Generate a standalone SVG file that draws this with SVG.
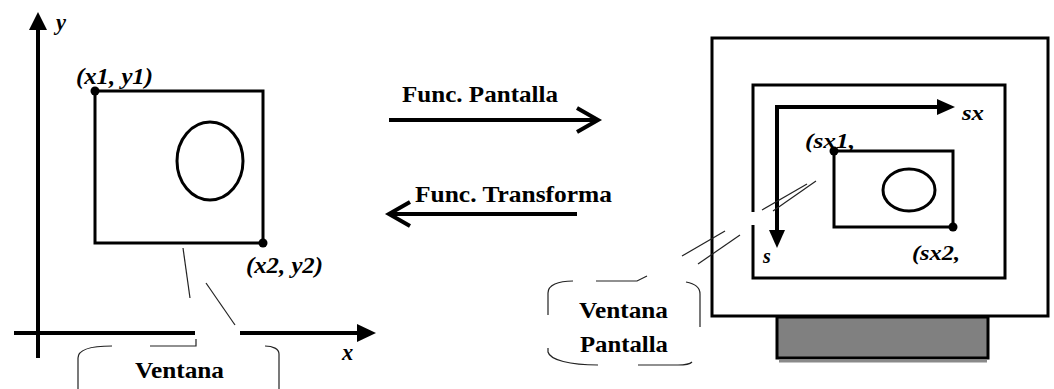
<svg xmlns="http://www.w3.org/2000/svg" width="1054" height="389" viewBox="0 0 1054 389">
<style>
.thick{fill:none;stroke:#000;stroke-width:4}
.box{fill:none;stroke:#000;stroke-width:3}
.thin{fill:none;stroke:#222;stroke-width:1.2}
.head{fill:#000;stroke:none}
.dot{fill:#000}
.lbl{font-family:"Liberation Serif","Times New Roman",serif;font-weight:bold;font-size:22.5px;fill:#000}
.it{font-style:italic}
.sm{font-size:20px}
</style>
<rect width="1054" height="389" fill="#fff"/>

<g id="world-axes">
  <line class="thick" x1="38" y1="358" x2="38" y2="29"/>
  <polygon class="head" points="29,30 38,12 47,30"/>
  <text class="lbl it" x="56" y="30">y</text>
  <line class="thick" x1="14" y1="333" x2="195" y2="333"/>
  <line class="thick" x1="240" y1="333" x2="358" y2="333"/>
  <polygon class="head" points="357,324 376,333 357,342"/>
  <text class="lbl it" x="342" y="360">x</text>
</g>

<g id="world-window">
  <rect class="box" x="95" y="91" width="168" height="152"/>
  <ellipse class="box" cx="210" cy="161" rx="33" ry="39"/>
  <circle class="dot" cx="95" cy="91" r="4.5"/>
  <circle class="dot" cx="263" cy="243" r="4.5"/>
  <text class="lbl it" x="76" y="84" textLength="77" lengthAdjust="spacingAndGlyphs">(x1, y1)</text>
  <text class="lbl it" x="246" y="273" textLength="77" lengthAdjust="spacingAndGlyphs">(x2, y2)</text>
</g>

<g id="callout-ventana">
  <line class="thin" x1="183" y1="248" x2="190" y2="298"/>
  <line class="thin" x1="206" y1="283" x2="235" y2="325"/>
  <path class="thin" d="M78,389 L78,358 C78,350 90,346 112,346"/>
  <path class="thin" d="M150,346 L196,346 L196,339"/>
  <path class="thin" d="M265,346 C273,346 279,349 279,354 L279,389"/>
  <text class="lbl" x="135" y="378" textLength="89" lengthAdjust="spacingAndGlyphs">Ventana</text>
</g>

<g id="connectors">
  <g id="func-pantalla">
    <line class="thick" x1="389" y1="120" x2="596" y2="120"/>
    <polyline class="thick" points="577,108 598,120 577,132"/>
    <text class="lbl" x="402" y="102" textLength="156" lengthAdjust="spacingAndGlyphs">Func. Pantalla</text>
  </g>
  <g id="func-transforma">
    <line class="thick" x1="577" y1="214" x2="391" y2="214"/>
    <polyline class="thick" points="410,202 389,214 410,226"/>
    <text class="lbl" x="415" y="202" textLength="197" lengthAdjust="spacingAndGlyphs">Func. Transforma</text>
  </g>
</g>

<g id="monitor">
  <rect class="box" x="712" y="38" width="336" height="278"/>
  <rect x="777" y="317" width="211" height="41" fill="#808080" stroke="#000" stroke-width="3"/>
  <line x1="779" y1="361" x2="987" y2="361" stroke="#8a8a8a" stroke-width="3"/>
  <rect class="box" x="753" y="85" width="252" height="193"/>
  <rect x="750" y="212" width="6" height="13" fill="#fff"/>
</g>

<g id="screen-axes">
  <polyline class="thick" points="937,107 777,107 777,231"/>
  <polygon class="head" points="937,99 955,107 937,115"/>
  <polygon class="head" points="769,230 777,248 785,230"/>
  <text class="lbl it sm" x="962" y="120" textLength="22" lengthAdjust="spacingAndGlyphs">sx</text>
  <text class="lbl it sm" x="763" y="263">s</text>
</g>

<g id="screen-window">
  <rect class="box" x="834" y="151" width="119" height="76"/>
  <ellipse class="box" cx="909" cy="190" rx="26" ry="21"/>
  <circle class="dot" cx="834" cy="151" r="4.5"/>
  <circle class="dot" cx="953" cy="227" r="4.5"/>
  <text class="lbl it sm" x="805" y="148" textLength="50" lengthAdjust="spacingAndGlyphs">(sx1,</text>
  <text class="lbl it sm" x="912" y="260" textLength="48" lengthAdjust="spacingAndGlyphs">(sx2,</text>
</g>

<g id="callout-ventana-pantalla">
  <line class="thin" x1="682" y1="256" x2="725" y2="231"/>
  <line class="thin" x1="762" y1="210" x2="807" y2="184"/>
  <line class="thin" x1="698" y1="264" x2="740" y2="235"/>
  <line class="thin" x1="773" y1="211" x2="816" y2="181"/>
  <path class="thin" d="M548,315 L548,293 C548,285 558,281 573,281"/>
  <path class="thin" d="M596,281 L637,281 L647,276"/>
  <path class="thin" d="M686,282 C695,284 700,287 700,294 L700,327"/>
  <path class="thin" d="M548,348 L548,352 C550,360 570,365 598,365"/>
  <path class="thin" d="M638,365 L678,365 C686,365 690,364 692,362"/>
  <text class="lbl" x="579" y="318" textLength="89" lengthAdjust="spacingAndGlyphs">Ventana</text>
  <text class="lbl" x="580" y="352" textLength="88" lengthAdjust="spacingAndGlyphs">Pantalla</text>
</g>
</svg>
